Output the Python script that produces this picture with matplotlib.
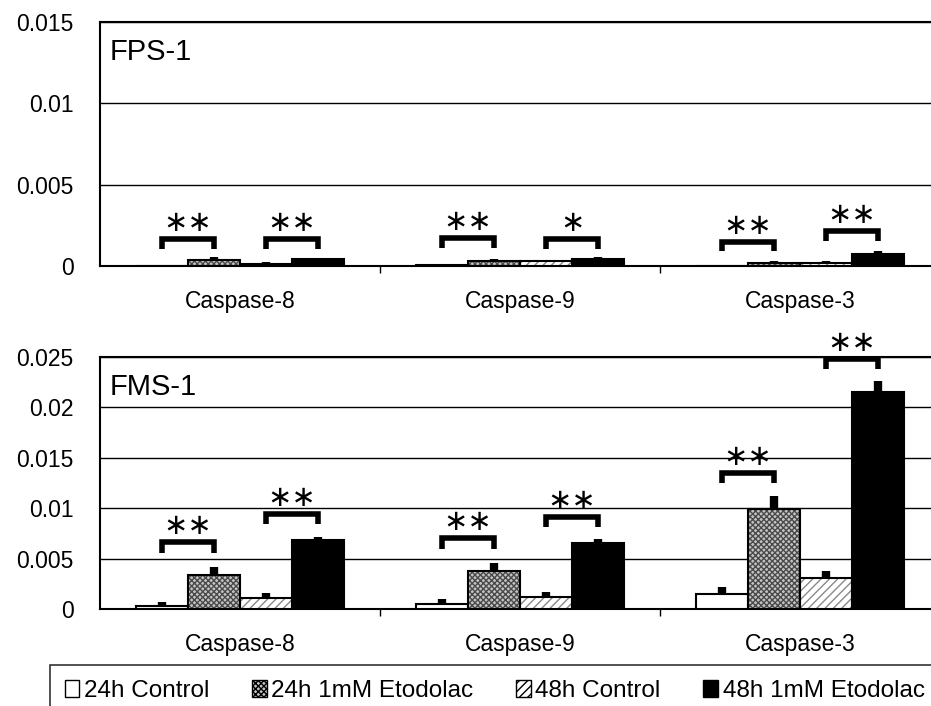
import matplotlib
matplotlib.use("Agg")
import matplotlib.pyplot as plt
from matplotlib.patches import Patch
import numpy as np

plt.rcParams['font.family'] = ['Liberation Sans', 'DejaVu Sans']

groups = ['Caspase-8', 'Caspase-9', 'Caspase-3']
series = ['24h Control', '24h 1mM Etodolac', '48h Control', '48h 1mM Etodolac']

# FPS-1 (top panel)
fps_vals = [[0.00003, 0.00005, 0.00002],
            [0.00037, 0.00030, 0.00020],
            [0.00015, 0.00030, 0.00020],
            [0.00040, 0.00042, 0.00075]]
fps_err = [[0.00002, 0.00004, 0.00002],
           [0.00018, 0.00012, 0.00010],
           [0.00008, 0.00008, 0.00010],
           [0.00010, 0.00012, 0.00020]]
# significance brackets: (pair 0 = 24h, pair 1 = 48h) heights per group
fps_sig_h = [[0.00165, 0.00165], [0.00170, 0.00165], [0.00150, 0.00215]]
fps_sig_txt = [['∗∗', '∗∗'], ['∗∗', '∗'], ['∗∗', '∗∗']]

# FMS-1 (bottom panel)
fms_vals = [[0.0003, 0.0005, 0.0015],
            [0.0034, 0.0038, 0.0099],
            [0.0011, 0.0012, 0.0031],
            [0.0068, 0.0065, 0.0215]]
fms_err = [[0.0004, 0.0005, 0.0007],
           [0.0008, 0.0008, 0.0013],
           [0.0005, 0.0005, 0.0007],
           [0.0003, 0.0004, 0.0011]]
fms_sig_h = [[0.0066, 0.0094], [0.0070, 0.0091], [0.0135, 0.0248]]
fms_sig_txt = [['∗∗', '∗∗'], ['∗∗', '∗∗'], ['∗∗', '∗∗']]

styles = [dict(facecolor='white', hatch=None, hcolor='black'),
          dict(facecolor='#c4c4c4', hatch='xxxxxx', hcolor='#4a4a4a'),
          dict(facecolor='white', hatch='////', hcolor='#8a8a8a'),
          dict(facecolor='black', hatch=None, hcolor='black')]

bw = 0.186
offsets = (np.arange(4) - 1.5) * bw
x = np.arange(len(groups))

fig = plt.figure(figsize=(9.31, 7.06), dpi=100)
ax_top = fig.add_axes([100 / 931, 1 - 266 / 706, 840 / 931, 244 / 706])
ax_bot = fig.add_axes([100 / 931, 1 - 609 / 706, 840 / 931, 252 / 706])


def draw_panel(ax, vals, errs, sig_h, sig_txt, ymax, step, label, leg):
    for i in range(4):
        st = styles[i]
        xs = x + offsets[i]
        ax.bar(xs, vals[i], bw, facecolor=st['facecolor'], hatch=st['hatch'],
               edgecolor=st['hcolor'], linewidth=0, zorder=3)
        ax.bar(xs, vals[i], bw, fill=False, edgecolor='black', linewidth=1.5, zorder=4)
        ax.errorbar(xs, vals[i], yerr=[np.zeros(3), errs[i]], fmt='none',
                    ecolor='black', elinewidth=6, capsize=0, zorder=2)
    for g in range(len(groups)):
        for p in range(2):
            x0 = x[g] + offsets[2 * p]
            x1 = x[g] + offsets[2 * p + 1]
            h = sig_h[g][p]
            ax.plot([x0, x0, x1, x1], [h - leg, h, h, h - leg], color='black',
                    lw=4, solid_joinstyle='miter', solid_capstyle='butt',
                    clip_on=False, zorder=5)
            ax.text((x0 + x1) / 2, h + leg * 0.2, sig_txt[g][p], ha='center',
                    va='bottom', fontsize=21, family='DejaVu Sans', clip_on=False)
    ax.set_xlim(-0.5, 2.5)
    ax.set_ylim(0, ymax)
    ax.set_yticks(np.arange(0, ymax + step / 2, step))
    ax.yaxis.grid(True, color='black', lw=1)
    ax.set_axisbelow(True)
    ax.set_xticks(x)
    ax.set_xticklabels(groups, fontsize=16.5)
    ax.set_xticks([0.5, 1.5], minor=True)
    ax.tick_params(axis='x', which='major', length=0, pad=17)
    ax.tick_params(axis='x', which='minor', length=5, width=1, direction='out')
    ax.tick_params(axis='y', length=0, labelsize=16.5, pad=19)
    for s in ax.spines.values():
        s.set_linewidth(1.5)
    ax.text(0.012, 0.935, label, transform=ax.transAxes, fontsize=21, va='top', ha='left')


draw_panel(ax_top, fps_vals, fps_err, fps_sig_h, fps_sig_txt, 0.015, 0.005, 'FPS-1', 0.0006)
ax_top.set_yticklabels(['0', '0.005', '0.01', '0.015'])
draw_panel(ax_bot, fms_vals, fms_err, fms_sig_h, fms_sig_txt, 0.025, 0.005, 'FMS-1', 0.001)
ax_bot.set_yticklabels(['0', '0.005', '0.01', '0.015', '0.02', '0.025'])

handles = [Patch(facecolor=st['facecolor'], hatch=st['hatch'], edgecolor='black', linewidth=1)
           for st in styles]
leg = fig.legend(handles, series, loc='upper left', ncol=4,
                 bbox_to_anchor=(50 / 931, 1 - 665 / 706, 1.0, 0.0),
                 frameon=True, fancybox=False, edgecolor='black', fontsize=17.5,
                 handlelength=0.6, handleheight=0.7, handletextpad=0.2,
                 columnspacing=1.75, borderpad=0.6, borderaxespad=0)
leg.get_frame().set_linewidth(1.2)

fig.savefig('out.png', dpi=100)
